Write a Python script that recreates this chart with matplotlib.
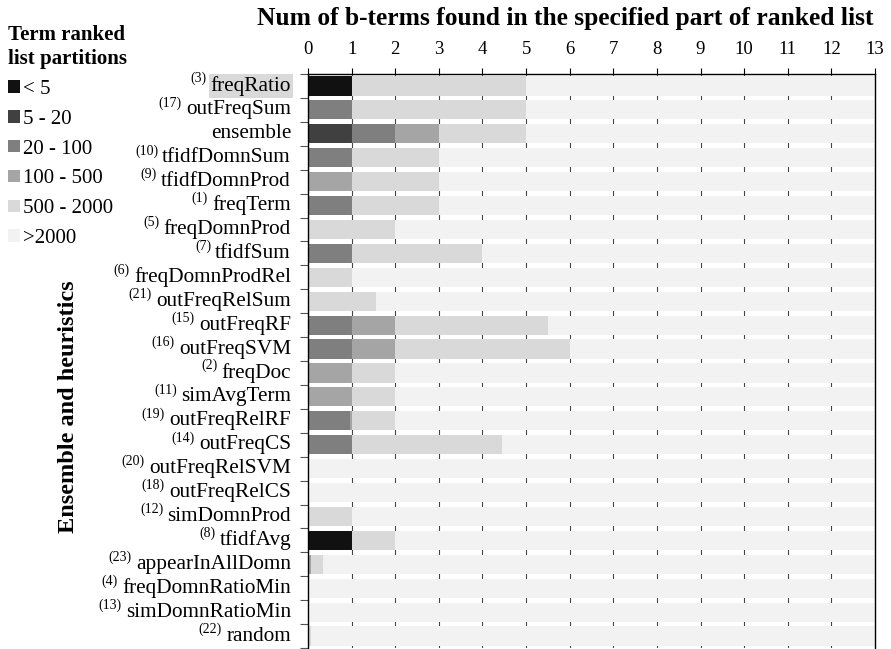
import matplotlib.pyplot as plt
import matplotlib.transforms as mtransforms
from matplotlib.patches import Patch
import numpy as np

plt.rcParams['font.family'] = ['Liberation Serif', 'DejaVu Serif']
plt.rcParams['mathtext.fontset'] = 'custom'
plt.rcParams['mathtext.rm'] = 'Liberation Serif'

names = ["freqRatio", "outFreqSum", "ensemble", "tfidfDomnSum", "tfidfDomnProd",
         "freqTerm", "freqDomnProd", "tfidfSum", "freqDomnProdRel", "outFreqRelSum",
         "outFreqRF", "outFreqSVM", "freqDoc", "simAvgTerm", "outFreqRelRF",
         "outFreqCS", "outFreqRelSVM", "outFreqRelCS", "simDomnProd", "tfidfAvg",
         "appearInAllDomn", "freqDomnRatioMin", "simDomnRatioMin", "random"]
ids = ["3", "17", "", "10", "9", "1", "5", "7", "6", "21", "15", "16", "2", "11",
       "19", "14", "20", "18", "12", "8", "23", "4", "13", "22"]

partitions = ["< 5", "5 - 20", "20 - 100", "100 - 500", "500 - 2000", ">2000"]
colors = ["#111111", "#404040", "#7f7f7f", "#a5a5a5", "#d9d9d9", "#f2f2f2"]

# b-terms found per partition, one list per partition (rows in order of names)
lt5 = [1, 0, 0, 0, 0, 0, 0, 0, 0, 0, 0, 0, 0, 0, 0, 0, 0, 0, 0, 1, 0, 0, 0, 0]
p5_20 = [0, 0, 1, 0, 0, 0, 0, 0, 0, 0, 0, 0, 0, 0, 0, 0, 0, 0, 0, 0, 0, 0, 0, 0]
p20_100 = [0, 1, 1, 1, 0, 1, 0, 1, 0, 0, 1, 1, 0, 0, 0.97, 1, 0, 0, 0, 0, 0, 0, 0, 0]
p100_500 = [0, 0, 1, 0, 1, 0, 0, 0, 0, 0, 1, 1, 1, 1, 0.03, 0, 0, 0, 0, 0, 0.08, 0, 0, 0]
p500_2000 = [4, 4, 2, 2, 2, 2, 2, 3, 1, 1.55, 3.5, 4, 1, 1, 1, 3.45, 0, 0, 1, 1, 0.27, 0, 0, 0.08]
xmax = 13

series = [lt5, p5_20, p20_100, p100_500, p500_2000]

fig = plt.figure(figsize=(8.91, 6.49), dpi=100)
ax = fig.add_axes([308 / 891, 1 - 648 / 649, (875 - 308) / 891, (648 - 74) / 649])

y = np.arange(len(names))
left = np.zeros(len(names))
for vals, c in zip(series, colors):
    ax.barh(y, vals, left=left, height=0.8, color=c, zorder=2)
    left += np.array(vals)
# everything beyond the 2000th rank fills the rest of the row
ax.barh(y, xmax - left, left=left, height=0.8, color=colors[-1], zorder=2)

ax.set_xlim(0, xmax)
ax.set_ylim(len(names) - 0.5, -0.5)

ax.xaxis.tick_top()
ax.set_xticks(range(0, xmax + 1))
ax.tick_params(axis='x', labelsize=13.5, length=4, width=0.8, pad=7.5)

ax.set_yticks(np.arange(len(names) + 1) - 0.5)
ax.set_yticklabels([])
ax.tick_params(axis='y', length=6, width=0.8, color='#555555')

ax.grid(axis='x', color='#444444', linewidth=0.8, zorder=1)
ax.set_axisbelow(True)

ax.spines['bottom'].set_visible(False)
for s in ['left', 'top', 'right']:
    ax.spines[s].set_linewidth(1.0)

# row labels with superscript heuristic numbers
offset = mtransforms.ScaledTranslation(-0.17, 0, fig.dpi_scale_trans)
trans = ax.get_yaxis_transform() + offset
for i, (n, k) in enumerate(zip(names, ids)):
    t = ax.text(0, i, n, transform=trans, ha='right', va='center', fontsize=15.3)
    if n == "freqRatio":
        t.set_bbox(dict(facecolor='#d9d9d9', edgecolor='none', pad=1.5))
    if k:
        ax.annotate(f"({k})", xy=(0, 1), xycoords=t, xytext=(-3, 3),
                    textcoords='offset points', ha='right', va='top', fontsize=10)

fig.text(565 / 891, 1 - 18 / 649,
         "Num of b-terms found in the specified part of ranked list",
         ha='center', va='center', fontsize=18.4, fontweight='bold')
fig.text(68 / 891, 1 - 407 / 649, "Ensemble and heuristics", rotation=90,
         ha='center', va='center', fontsize=17.5, fontweight='bold')

handles = [Patch(facecolor=c, edgecolor='none') for c in colors]
leg = fig.legend(handles, partitions, loc='upper left', bbox_to_anchor=(0.0, 0.975),
                 frameon=False, fontsize=15, title="Term ranked\nlist partitions",
                 title_fontproperties={'size': 15, 'weight': 'bold'},
                 handlelength=0.55, handleheight=0.55, handletextpad=0.15,
                 labelspacing=0.52, borderpad=0.2, borderaxespad=0.2)
leg.get_title().set_linespacing(1.3)
leg._legend_box.align = 'left'

fig.savefig("out.png", dpi=100)
